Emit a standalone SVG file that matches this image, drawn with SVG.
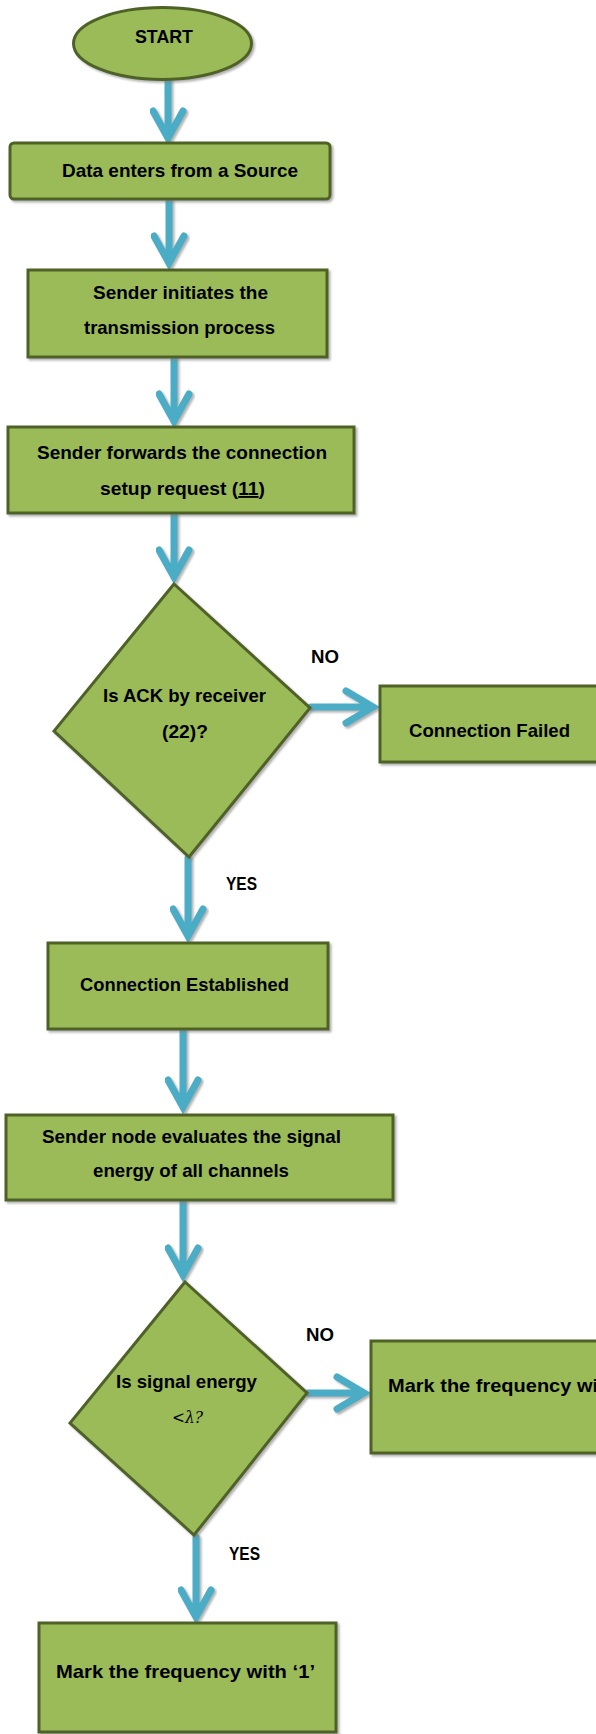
<svg xmlns="http://www.w3.org/2000/svg" width="596" height="1734" viewBox="0 0 596 1734">
  <defs>
    <filter id="shadow" x="-10%" y="-10%" width="130%" height="130%">
      <feDropShadow dx="2" dy="2" stdDeviation="1" flood-color="#7f7f7f" flood-opacity="0.6"/>
    </filter>
    <style>
      .shape { fill: #9bbb59; stroke: #4f6228; stroke-width: 3; filter: url(#shadow); }
      .lbl { font-family: "Liberation Sans", Arial, sans-serif; font-weight: bold; font-size: 19px; fill: #000; }
      .math { font-family: "DejaVu Serif", "Liberation Serif", serif; font-style: italic; font-size: 17px; fill: #000; }
      .conn { fill: none; stroke: #4bacc6; stroke-width: 7; stroke-linecap: round; stroke-linejoin: miter; filter: url(#shadow); }
    </style>
  </defs>
  <rect width="596" height="1734" fill="#ffffff"/>

  <!-- connectors: shaft plus open chevron head -->
  <g id="connectors">
    <path class="conn" d="M168,80 V138 M153,111 L168,138 L183,111"/>
    <path class="conn" d="M169,200 V263 M154,236 L169,263 L184,236"/>
    <path class="conn" d="M174,358 V421 M159,394 L174,421 L189,394"/>
    <path class="conn" d="M174,514 V577 M159,550 L174,577 L189,550"/>
    <path class="conn" d="M311,707 H373 M346,691 L373,707 L346,723"/>
    <path class="conn" d="M188,858 V936 M173,909 L188,936 L203,909"/>
    <path class="conn" d="M183,1030 V1107 M168,1080 L183,1107 L198,1080"/>
    <path class="conn" d="M183,1201 V1275 M168,1248 L183,1275 L198,1248"/>
    <path class="conn" d="M308,1393 H364 M337,1377 L364,1393 L337,1409"/>
    <path class="conn" d="M196,1537 V1617 M181,1590 L196,1617 L211,1590"/>
  </g>

  <g id="start">
    <ellipse class="shape" cx="162.5" cy="43.5" rx="89" ry="36"/>
    <text class="lbl" x="135" y="43" font-size="21" textLength="58" lengthAdjust="spacingAndGlyphs">START</text>
  </g>

  <g id="data-source">
    <rect class="shape" x="10" y="143" width="320" height="56" rx="4"/>
    <text class="lbl" x="62" y="177" textLength="236" lengthAdjust="spacingAndGlyphs">Data enters from a Source</text>
  </g>

  <g id="sender-initiates">
    <rect class="shape" x="28" y="270" width="299" height="87"/>
    <text class="lbl" x="93" y="299" textLength="175" lengthAdjust="spacingAndGlyphs">Sender initiates the</text>
    <text class="lbl" x="84" y="334" textLength="191" lengthAdjust="spacingAndGlyphs">transmission process</text>
  </g>

  <g id="setup-request">
    <rect class="shape" x="8" y="427" width="346" height="86"/>
    <text class="lbl" x="37" y="459" textLength="290" lengthAdjust="spacingAndGlyphs">Sender forwards the connection</text>
    <text class="lbl" x="100" y="495" textLength="165" lengthAdjust="spacingAndGlyphs">setup request (<tspan text-decoration="underline">11</tspan>)</text>
  </g>

  <g id="ack-decision">
    <polygon class="shape" points="174,584 310,708 189,857 54,731"/>
    <text class="lbl" x="103" y="702" textLength="163" lengthAdjust="spacingAndGlyphs">Is ACK by receiver</text>
    <text class="lbl" x="162" y="738" textLength="46" lengthAdjust="spacingAndGlyphs">(22)?</text>
    <text class="lbl" x="311" y="663" textLength="28" lengthAdjust="spacingAndGlyphs">NO</text>
    <text class="lbl" x="226" y="890" textLength="31" lengthAdjust="spacingAndGlyphs">YES</text>
  </g>

  <g id="connection-failed">
    <rect class="shape" x="380" y="686" width="224" height="76"/>
    <text class="lbl" x="409" y="737" textLength="161" lengthAdjust="spacingAndGlyphs">Connection Failed</text>
  </g>

  <g id="connection-established">
    <rect class="shape" x="48" y="943" width="280" height="86"/>
    <text class="lbl" x="80" y="991" textLength="209" lengthAdjust="spacingAndGlyphs">Connection Established</text>
  </g>

  <g id="evaluate-energy">
    <rect class="shape" x="6" y="1115" width="387" height="85"/>
    <text class="lbl" x="42" y="1143" textLength="299" lengthAdjust="spacingAndGlyphs">Sender node evaluates the signal</text>
    <text class="lbl" x="93" y="1177" textLength="196" lengthAdjust="spacingAndGlyphs">energy of all channels</text>
  </g>

  <g id="energy-decision">
    <polygon class="shape" points="185,1282 307,1393 194,1535 70,1423"/>
    <text class="lbl" x="116" y="1388" textLength="141" lengthAdjust="spacingAndGlyphs">Is signal energy</text>
    <text class="math" x="172" y="1423" textLength="31" lengthAdjust="spacingAndGlyphs">&lt;λ?</text>
    <text class="lbl" x="306" y="1341" textLength="28" lengthAdjust="spacingAndGlyphs">NO</text>
    <text class="lbl" x="229" y="1560" textLength="31" lengthAdjust="spacingAndGlyphs">YES</text>
  </g>

  <g id="mark-zero">
    <rect class="shape" x="371" y="1341" width="233" height="112"/>
    <text class="lbl" x="388" y="1392" textLength="210" lengthAdjust="spacingAndGlyphs">Mark the frequency wi</text>
  </g>

  <g id="mark-one">
    <rect class="shape" x="39" y="1623" width="297" height="109"/>
    <text class="lbl" x="56" y="1678" textLength="259" lengthAdjust="spacingAndGlyphs">Mark the frequency with ‘1’</text>
  </g>
</svg>
